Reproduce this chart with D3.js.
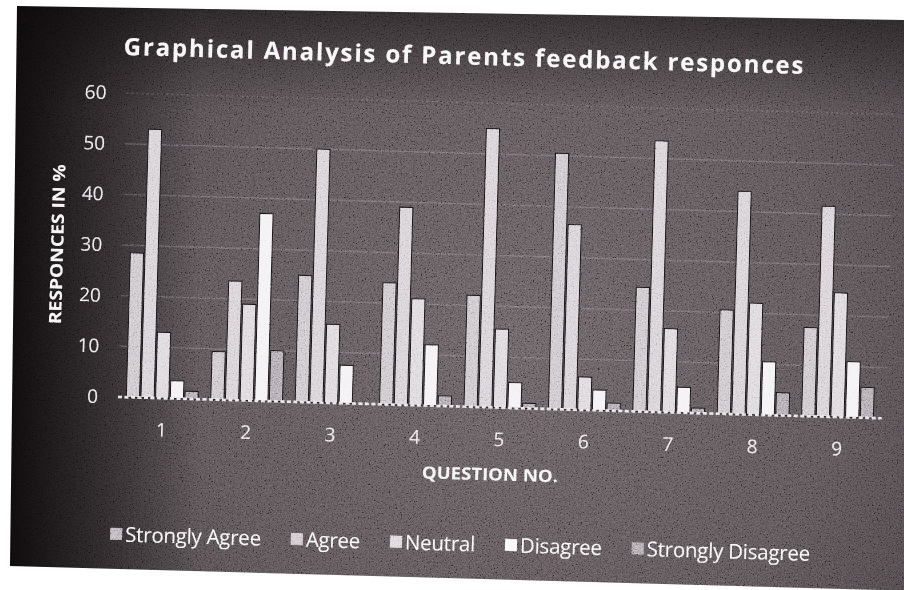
<!DOCTYPE html>
<html>
<head>
<meta charset="utf-8">
<script src="https://cdn.jsdelivr.net/npm/d3@7"></script>
<style>
  html, body { margin: 0; padding: 0; background: #ffffff; }
  svg { display: block; }
</style>
</head>
<body>
<script>
// Parents feedback survey: share of responses (%) per question
const questions = ["1", "2", "3", "4", "5", "6", "7", "8", "9"];
const seriesNames = ["Strongly Agree", "Agree", "Neutral", "Disagree", "Strongly Disagree"];
const stronglyAgree    = [28.5, 9.5, 25, 24, 22, 50.5, 24.5, 20.5, 17.5];
const agree            = [53, 23.5, 50, 39, 55, 36.5, 53.5, 44, 41.5];
const neutral          = [13, 19, 15.5, 21, 15.5, 6.5, 16.5, 22, 24.5];
const disagree         = [3.5, 37, 7.5, 12, 5, 4, 5, 10.5, 11];
const stronglyDisagree = [1.5, 10, 0, 2, 1, 1.5, 1, 4.5, 6];
const yTicks = [0, 10, 20, 30, 40, 50, 60];

const seriesValues = [stronglyAgree, agree, neutral, disagree, stronglyDisagree];
const seriesColors = ["#c6c0c6", "#d2ccd2", "#d9d4d9", "#f2f0f2", "#a8a0a8"];
const legendColors = ["#b3abb3", "#c9c2c9", "#d8d3d8", "#f7f7f7", "#a59ca5"];

const W = 904, H = 590;
const svg = d3.select("body").append("svg").attr("width", W).attr("height", H);
const defs = svg.append("defs");

// dark card shading
const rg = defs.append("radialGradient").attr("id", "cardShade")
  .attr("gradientUnits", "userSpaceOnUse")
  .attr("cx", 520).attr("cy", 340).attr("r", 640);
[[0, "#5f585b"], [0.5, "#544d50"], [0.8, "#433d40"], [1, "#2a2527"]]
  .forEach(([o, c]) => rg.append("stop").attr("offset", o).attr("stop-color", c));

const lg = defs.append("linearGradient").attr("id", "leftShade")
  .attr("gradientUnits", "userSpaceOnUse").attr("x1", 10).attr("x2", 200).attr("y1", 0).attr("y2", 0);
lg.append("stop").attr("offset", 0).attr("stop-color", "#0b0809").attr("stop-opacity", 0.95);
lg.append("stop").attr("offset", 1).attr("stop-color", "#0b0809").attr("stop-opacity", 0);

const tg = defs.append("linearGradient").attr("id", "topShade")
  .attr("gradientUnits", "userSpaceOnUse").attr("x1", 0).attr("x2", 0).attr("y1", 6).attr("y2", 110);
tg.append("stop").attr("offset", 0).attr("stop-color", "#0b0809").attr("stop-opacity", 0.55);
tg.append("stop").attr("offset", 1).attr("stop-color", "#0b0809").attr("stop-opacity", 0);

// film grain
const grain = defs.append("filter").attr("id", "grain")
  .attr("x", 0).attr("y", 0).attr("width", "100%").attr("height", "100%");
grain.append("feTurbulence").attr("type", "fractalNoise")
  .attr("baseFrequency", 0.75).attr("numOctaves", 2).attr("seed", 7);
grain.append("feColorMatrix").attr("type", "matrix")
  .attr("values", "0.33 0.33 0.33 0 0  0.33 0.33 0.33 0 0  0.33 0.33 0.33 0 0  0 0 0 0 1");
const ct = grain.append("feComponentTransfer");
["feFuncR", "feFuncG", "feFuncB"].forEach(f =>
  ct.append(f).attr("type", "linear").attr("slope", 3).attr("intercept", -1));

const cardShape = [[17, 6], [904, 20], [904, 590], [880, 590], [10, 566]];
defs.append("clipPath").attr("id", "cardClip")
  .append("polygon").attr("points", cardShape.map(p => p.join(",")).join(" "));

const card = svg.append("g").attr("clip-path", "url(#cardClip)");
card.append("rect").attr("width", W).attr("height", H).attr("fill", "url(#cardShade)");
card.append("rect").attr("width", W).attr("height", H).attr("fill", "url(#leftShade)");
card.append("rect").attr("width", W).attr("height", H).attr("fill", "url(#topShade)");

// chart body, printed slightly askew
const g = card.append("g").attr("transform", "rotate(1.6,120,397)");

const x0 = d3.scaleBand().domain(questions).range([120, 880])
  .paddingInner(0.15).paddingOuter(0.075);
const x1 = d3.scaleBand().domain(seriesNames).range([0, x0.bandwidth()]).paddingInner(0.1);
const y = d3.scaleLinear().domain([0, 60]).range([397, 93]);

// horizontal gridlines
g.append("g").selectAll("line").data(yTicks.filter(t => t > 0)).join("line")
  .attr("x1", 118).attr("x2", 886)
  .attr("y1", d => y(d)).attr("y2", d => y(d))
  .attr("stroke", "#a39ca0").attr("stroke-opacity", 0.28).attr("stroke-width", 1.4)
  .attr("stroke-dasharray", d => d === 60 ? "2,3" : null);

// bars
const groups = g.append("g").selectAll("g").data(questions).join("g")
  .attr("transform", d => `translate(${x0(d)},0)`);
groups.selectAll("rect")
  .data((q, qi) => seriesNames.map((s, si) => ({ s, si, v: seriesValues[si][qi] })))
  .join("rect")
  .attr("x", d => x1(d.s))
  .attr("y", d => y(d.v))
  .attr("width", x1.bandwidth())
  .attr("height", d => y(0) - y(d.v))
  .attr("fill", d => seriesColors[d.si])
  .attr("stroke", "#141113").attr("stroke-width", 1);

// zero line
g.append("line").attr("x1", 118).attr("x2", 882).attr("y1", y(0)).attr("y2", y(0))
  .attr("stroke", "#e6e2e6").attr("stroke-width", 2.6).attr("stroke-dasharray", "4,2.5");

// axes
const yAxis = g.append("g").attr("transform", "translate(120,0)")
  .call(d3.axisLeft(y).tickValues(yTicks).tickSize(0).tickPadding(22));
yAxis.select(".domain").remove();
yAxis.selectAll("text").attr("fill", "#e8e4e8")
  .style("font-family", "'Open Sans', sans-serif").style("font-size", "19px");

const xAxis = g.append("g").attr("transform", `translate(0,${y(0)})`)
  .call(d3.axisBottom(x0).tickSize(0).tickPadding(25));
xAxis.select(".domain").remove();
xAxis.selectAll("text").attr("fill", "#ece8ec")
  .style("font-family", "'Open Sans', sans-serif").style("font-size", "19px");

// titles
g.append("text").attr("x", 454).attr("y", 55).attr("text-anchor", "middle")
  .attr("textLength", 680).attr("lengthAdjust", "spacing")
  .attr("fill", "#f6f4f6")
  .style("font-family", "'Open Sans', sans-serif").style("font-weight", 700).style("font-size", "24px")
  .text("Graphical Analysis of Parents feedback responces");

g.append("text").attr("transform", "translate(59,246) rotate(-90)")
  .attr("text-anchor", "middle").attr("textLength", 160).attr("lengthAdjust", "spacingAndGlyphs")
  .attr("fill", "#f4f2f4")
  .style("font-family", "'Open Sans', sans-serif").style("font-weight", 700).style("font-size", "17px")
  .text("RESPONCES IN %");

g.append("text").attr("x", 492).attr("y", 470).attr("text-anchor", "middle")
  .attr("textLength", 136).attr("lengthAdjust", "spacingAndGlyphs")
  .attr("fill", "#f4f2f4")
  .style("font-family", "'Open Sans', sans-serif").style("font-weight", 700).style("font-size", "17px")
  .text("QUESTION NO.");

// legend
const legend = g.append("g");
let cursor = 0;
seriesNames.forEach((name, i) => {
  const item = legend.append("g").attr("transform", `translate(${cursor},0)`);
  item.append("rect").attr("x", 0).attr("y", -7).attr("width", 12).attr("height", 12)
    .attr("fill", legendColors[i]);
  const t = item.append("text").attr("x", 15).attr("y", 6.5)
    .attr("fill", "#f8f6f8")
    .style("font-family", "'Open Sans', sans-serif").style("font-size", "20.5px")
    .style("letter-spacing", "-0.25px")
    .text(name);
  cursor += 15 + t.node().getComputedTextLength() + 30;
});
const legendWidth = cursor - 30;
legend.attr("transform", `translate(${464 - legendWidth / 2},535)`);

// grain over the whole card
card.append("rect").attr("width", W).attr("height", H)
  .attr("filter", "url(#grain)")
  .style("mix-blend-mode", "overlay").attr("opacity", 0.5);
</script>
</body>
</html>
